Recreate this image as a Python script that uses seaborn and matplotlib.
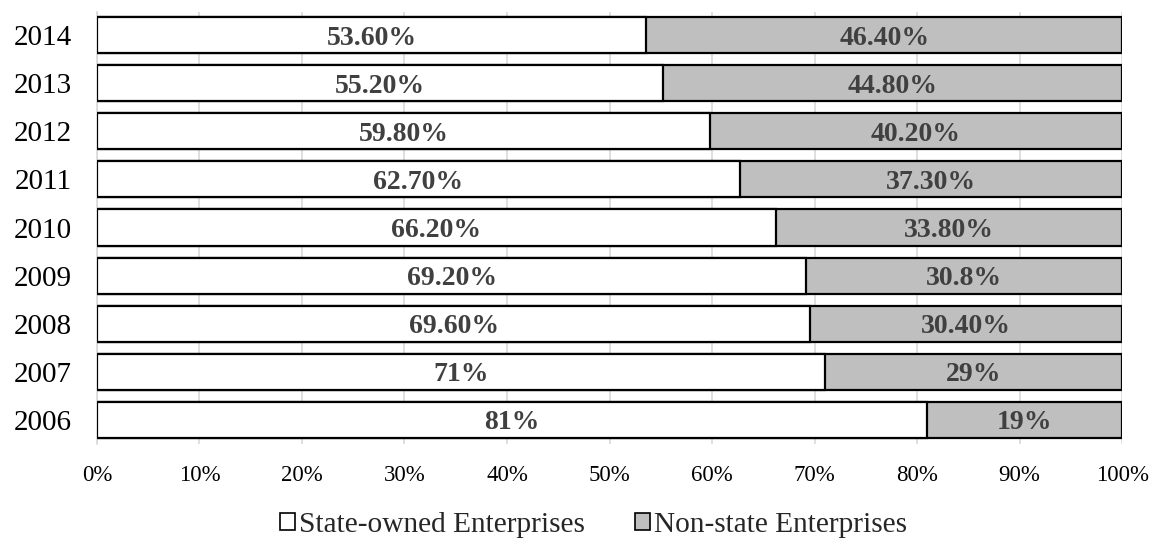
import matplotlib
matplotlib.use("Agg")
import matplotlib.pyplot as plt
import seaborn as sns
import pandas as pd
from matplotlib.patches import Patch
from matplotlib.ticker import FuncFormatter, MultipleLocator

# Share of enterprises by ownership, 2006-2014 (percent)
years = ["2014", "2013", "2012", "2011", "2010", "2009", "2008", "2007", "2006"]
state_owned = [53.6, 55.2, 59.8, 62.7, 66.2, 69.2, 69.6, 71, 81]
non_state = [46.4, 44.8, 40.2, 37.3, 33.8, 30.8, 30.4, 29, 19]
state_labels = ["53.60%", "55.20%", "59.80%", "62.70%", "66.20%",
                "69.20%", "69.60%", "71%", "81%"]
non_state_labels = ["46.40%", "44.80%", "40.20%", "37.30%", "33.80%",
                    "30.8%", "30.40%", "29%", "19%"]
series_names = ["State-owned Enterprises", "Non-state Enterprises"]

sns.set_theme(style="white")
plt.rcParams["font.family"] = ["Liberation Serif", "DejaVu Serif"]

df = pd.DataFrame({
    "year": years,
    "state": state_owned,
    "non_state": non_state,
})
df["total"] = df["state"] + df["non_state"]

fig = plt.figure(figsize=(11.5, 5.39), dpi=100)
ax = fig.add_axes([0.0843, 0.1763, 0.8914, 0.8014])

gray = "#BFBFBF"
edge = "black"
bar_w = 0.75

# Full-length bars carry the non-state share; state-owned bars sit on top from 0
sns.barplot(data=df, y="year", x="total", order=years, orient="h",
            color=gray, edgecolor=edge, linewidth=1.6, width=bar_w,
            saturation=1, ax=ax, zorder=2)
sns.barplot(data=df, y="year", x="state", order=years, orient="h",
            color="white", edgecolor=edge, linewidth=1.6, width=bar_w,
            saturation=1, ax=ax, zorder=3)

label_color = "#404040"
for i, (s, n) in enumerate(zip(state_owned, non_state)):
    ax.text(s / 2, i, state_labels[i], ha="center", va="center_baseline",
            fontsize=20, fontweight="bold", color=label_color, zorder=5)
    ax.text(s + n / 2, i, non_state_labels[i], ha="center", va="center_baseline",
            fontsize=20, fontweight="bold", color=label_color, zorder=5)

ax.set_xlim(0, 100)
ax.set_ylim(len(years) - 0.5, -0.48)
ax.xaxis.set_major_locator(MultipleLocator(10))
ax.xaxis.set_major_formatter(FuncFormatter(lambda v, p: f"{v:.0f}%"))
ax.grid(axis="x", color="#D9D9D9", linewidth=1.2, zorder=0)
ax.grid(axis="y", visible=False)
ax.set_axisbelow(True)
ax.set_xlabel("")
ax.set_ylabel("")

for side in ["top", "right", "bottom"]:
    ax.spines[side].set_visible(False)
ax.spines["left"].set_color("#D9D9D9")
ax.spines["left"].set_linewidth(1.2)

ax.tick_params(axis="x", labelsize=16.5, colors="black", length=0, pad=15)
ax.tick_params(axis="y", labelsize=21, colors="black", length=0, pad=18)

handles = [
    Patch(facecolor="white", edgecolor=edge, linewidth=1.2, label=series_names[0]),
    Patch(facecolor=gray, edgecolor=edge, linewidth=1.2, label=series_names[1]),
]
fig.legend(handles=handles, loc="center", bbox_to_anchor=(0.516, 0.026),
           ncol=2, frameon=False, fontsize=21.2, handlelength=0.5,
           handleheight=0.5, handletextpad=0.15, columnspacing=1.7,
           borderpad=0)

fig.savefig("out.png", dpi=100)
